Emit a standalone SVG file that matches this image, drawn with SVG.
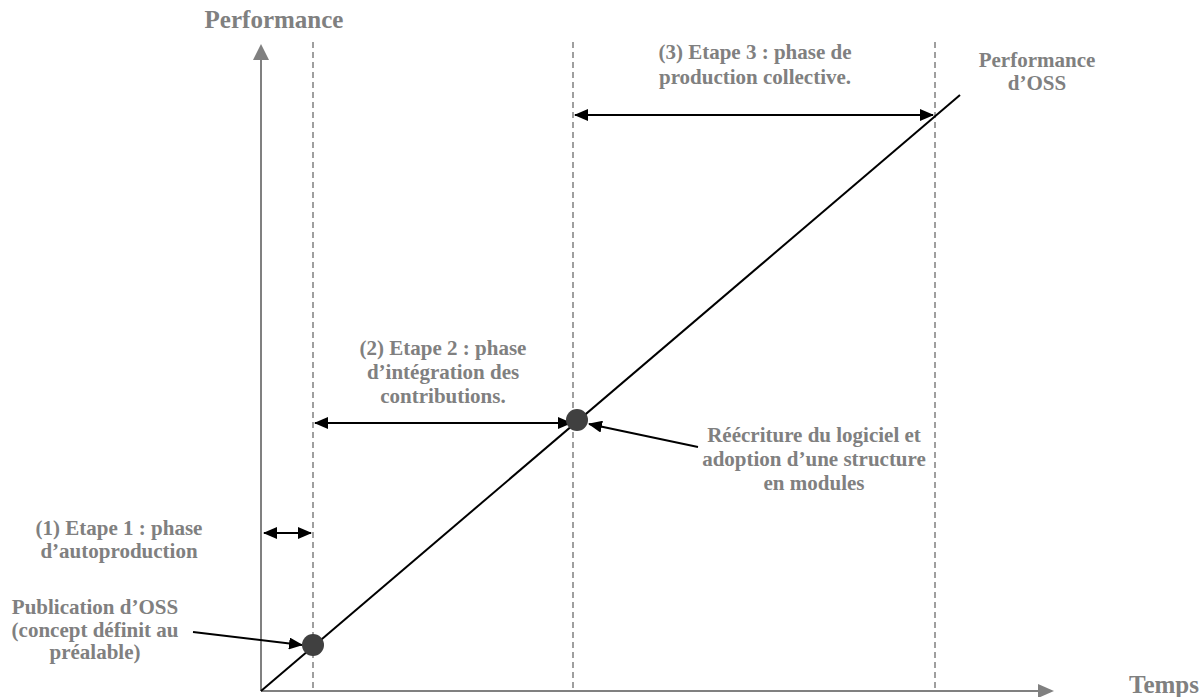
<svg xmlns="http://www.w3.org/2000/svg" width="1204" height="697" viewBox="0 0 1204 697">
<style>
.lbl{font-family:"Liberation Serif","Times New Roman",serif;font-weight:bold;fill:#808080;text-anchor:middle;font-size:21px}
.ax{font-size:25px}
.axis{stroke:#808080;stroke-width:2;fill:none}
.dash{stroke:#808080;stroke-width:1.5;stroke-dasharray:6 4;fill:none}
.conn{stroke:#000;stroke-width:2;fill:none}
.dot{fill:#404040}
</style>
<defs>
<marker id="ah" viewBox="0 0 14 12" refX="13" refY="6" markerWidth="14" markerHeight="12" orient="auto-start-reverse" markerUnits="userSpaceOnUse">
<path d="M0,0 L14,6 L0,12 z" fill="#000"/>
</marker>
</defs>
<rect width="1204" height="697" fill="#fff"/>
<g id="axes">
<line class="axis" x1="261" y1="691" x2="261" y2="58"/>
<path d="M261,44 L253,60 L269,60 z" fill="#808080"/>
<line class="axis" x1="261" y1="691" x2="1040" y2="691"/>
<path d="M1054,691 L1038,684 L1038,698 z" fill="#808080"/>
<text class="lbl ax" x="274" y="28">Performance</text>
<text class="lbl ax" x="1164" y="693">Temps</text>
</g>
<g id="guides">
<line class="dash" x1="313" y1="42" x2="313" y2="691"/>
<line class="dash" x1="573" y1="42" x2="573" y2="691"/>
<line class="dash" x1="935" y1="42" x2="935" y2="691"/>
</g>
<g id="connectors">
<line class="conn" x1="261" y1="691" x2="960" y2="95"/>
<line class="conn" x1="264" y1="533" x2="311" y2="533" marker-start="url(#ah)" marker-end="url(#ah)"/>
<line class="conn" x1="315" y1="423" x2="571" y2="423" marker-start="url(#ah)" marker-end="url(#ah)"/>
<line class="conn" x1="575" y1="115" x2="933" y2="115" marker-start="url(#ah)" marker-end="url(#ah)"/>
<line class="conn" x1="193" y1="632" x2="302" y2="645" marker-end="url(#ah)"/>
<line class="conn" x1="698" y1="447" x2="589" y2="424" marker-end="url(#ah)"/>
</g>
<g id="dot-publication"><circle class="dot" cx="313" cy="645" r="11"/></g>
<g id="dot-reecriture"><circle class="dot" cx="577" cy="420" r="11"/></g>
<g id="label-etape1">
<text class="lbl" x="119" y="535">(1) Etape 1 : phase</text>
<text class="lbl" x="119" y="558">d’autoproduction</text>
</g>
<g id="label-publication">
<text class="lbl" x="95" y="614">Publication d’OSS</text>
<text class="lbl" x="95" y="637">(concept définit au</text>
<text class="lbl" x="95" y="659">préalable)</text>
</g>
<g id="label-etape2">
<text class="lbl" x="443" y="355">(2) Etape 2 : phase</text>
<text class="lbl" x="443" y="379">d’intégration des</text>
<text class="lbl" x="443" y="403">contributions.</text>
</g>
<g id="label-reecriture">
<text class="lbl" x="814" y="442">Réécriture du logiciel et</text>
<text class="lbl" x="814" y="466">adoption d’une structure</text>
<text class="lbl" x="814" y="490">en modules</text>
</g>
<g id="label-etape3">
<text class="lbl" x="755" y="59">(3) Etape 3 : phase de</text>
<text class="lbl" x="755" y="84">production collective.</text>
</g>
<g id="label-perf-oss">
<text class="lbl" x="1037" y="67">Performance</text>
<text class="lbl" x="1037" y="90">d’OSS</text>
</g>
</svg>
